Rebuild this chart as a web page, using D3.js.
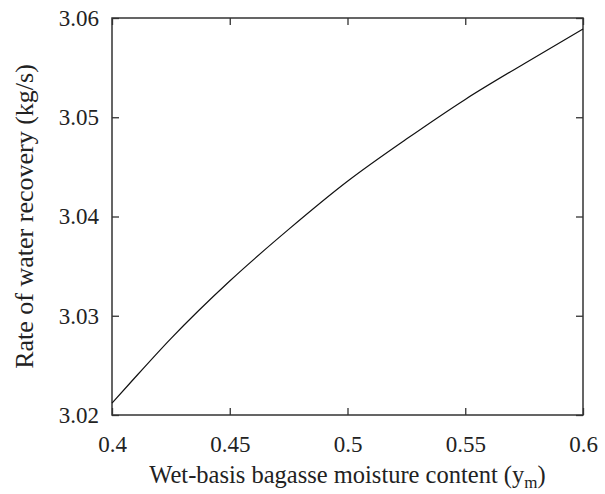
<!DOCTYPE html>
<html>
<head>
<meta charset="utf-8">
<script src="https://cdn.jsdelivr.net/npm/d3@7"></script>
<style>
  body { margin: 0; background: #fff; }
</style>
</head>
<body>
<svg id="chart" width="605" height="494"></svg>
<script>
// moisture content (x) and water recovery rate (y)
const moisture = [0.40, 0.4076, 0.425, 0.45, 0.475, 0.50, 0.525, 0.55, 0.575, 0.60]
const recovery = [3.0212, 3.0232, 3.0277, 3.0335, 3.0387, 3.04355, 3.0478, 3.0518, 3.0554, 3.0589]
const xTicks = [0.4, 0.45, 0.5, 0.55, 0.6]
const yTicks = [3.02, 3.03, 3.04, 3.05, 3.06]

const font = "'Liberation Serif', 'Times New Roman', 'DejaVu Serif', serif"
const svg = d3.select("#chart")
const margin = { top: 18, right: 22, bottom: 79, left: 112 }
const width = 605 - margin.left - margin.right
const height = 494 - margin.top - margin.bottom

const g = svg.append("g")
    .attr("transform", "translate(" + margin.left + "," + margin.top + ")")

const x = d3.scaleLinear().domain([0.4, 0.6]).range([0, width])
const y = d3.scaleLinear().domain([3.02, 3.06]).range([height, 0])

// inward ticks on all four sides
const tick = 7
const styleAxis = sel => {
    sel.attr("font-family", null).attr("font-size", null)
    sel.select(".domain").remove()
    sel.selectAll(".tick line").attr("stroke", "#333").attr("stroke-width", 1.3)
    sel.selectAll(".tick text")
        .style("font-family", font)
        .style("font-size", "23px")
        .attr("fill", "#222")
}

g.append("g")
    .attr("transform", "translate(0," + height + ")")
    .call(d3.axisBottom(x).tickValues(xTicks).tickFormat(d3.format("")).tickSize(-tick).tickPadding(tick + 14))
    .call(styleAxis)
g.append("g")
    .call(d3.axisTop(x).tickValues(xTicks).tickFormat("").tickSize(-tick))
    .call(styleAxis)
g.append("g")
    .call(d3.axisLeft(y).tickValues(yTicks).tickFormat(d3.format(".2f")).tickSize(-tick).tickPadding(tick + 6))
    .call(styleAxis)
g.append("g")
    .attr("transform", "translate(" + width + ",0)")
    .call(d3.axisRight(y).tickValues(yTicks).tickFormat("").tickSize(-tick))
    .call(styleAxis)

g.append("rect")
    .attr("width", width)
    .attr("height", height)
    .attr("fill", "none")
    .attr("stroke", "#333")
    .attr("stroke-width", 1.5)

g.append("path")
    .datum(moisture.map((m, i) => [m, recovery[i]]))
    .attr("fill", "none")
    .attr("stroke", "#111")
    .attr("stroke-width", 1.2)
    .attr("d", d3.line().x(d => x(d[0])).y(d => y(d[1])).curve(d3.curveMonotoneX))

// axis titles
const xt = svg.append("text")
    .attr("x", margin.left + width / 2)
    .attr("y", 483)
    .attr("text-anchor", "middle")
    .style("font-family", font)
    .attr("font-size", 24.5)
    .attr("fill", "#222")
xt.append("tspan").text("Wet-basis bagasse moisture content (y")
xt.append("tspan").attr("font-size", 17).attr("dy", 5).text("m")
xt.append("tspan").attr("dy", -5).text(")")

svg.append("text")
    .attr("transform", "translate(33," + (margin.top + height / 2) + ") rotate(-90)")
    .attr("text-anchor", "middle")
    .style("font-family", font)
    .attr("font-size", 26)
    .attr("fill", "#222")
    .text("Rate of water recovery (kg/s)")
</script>
</body>
</html>
